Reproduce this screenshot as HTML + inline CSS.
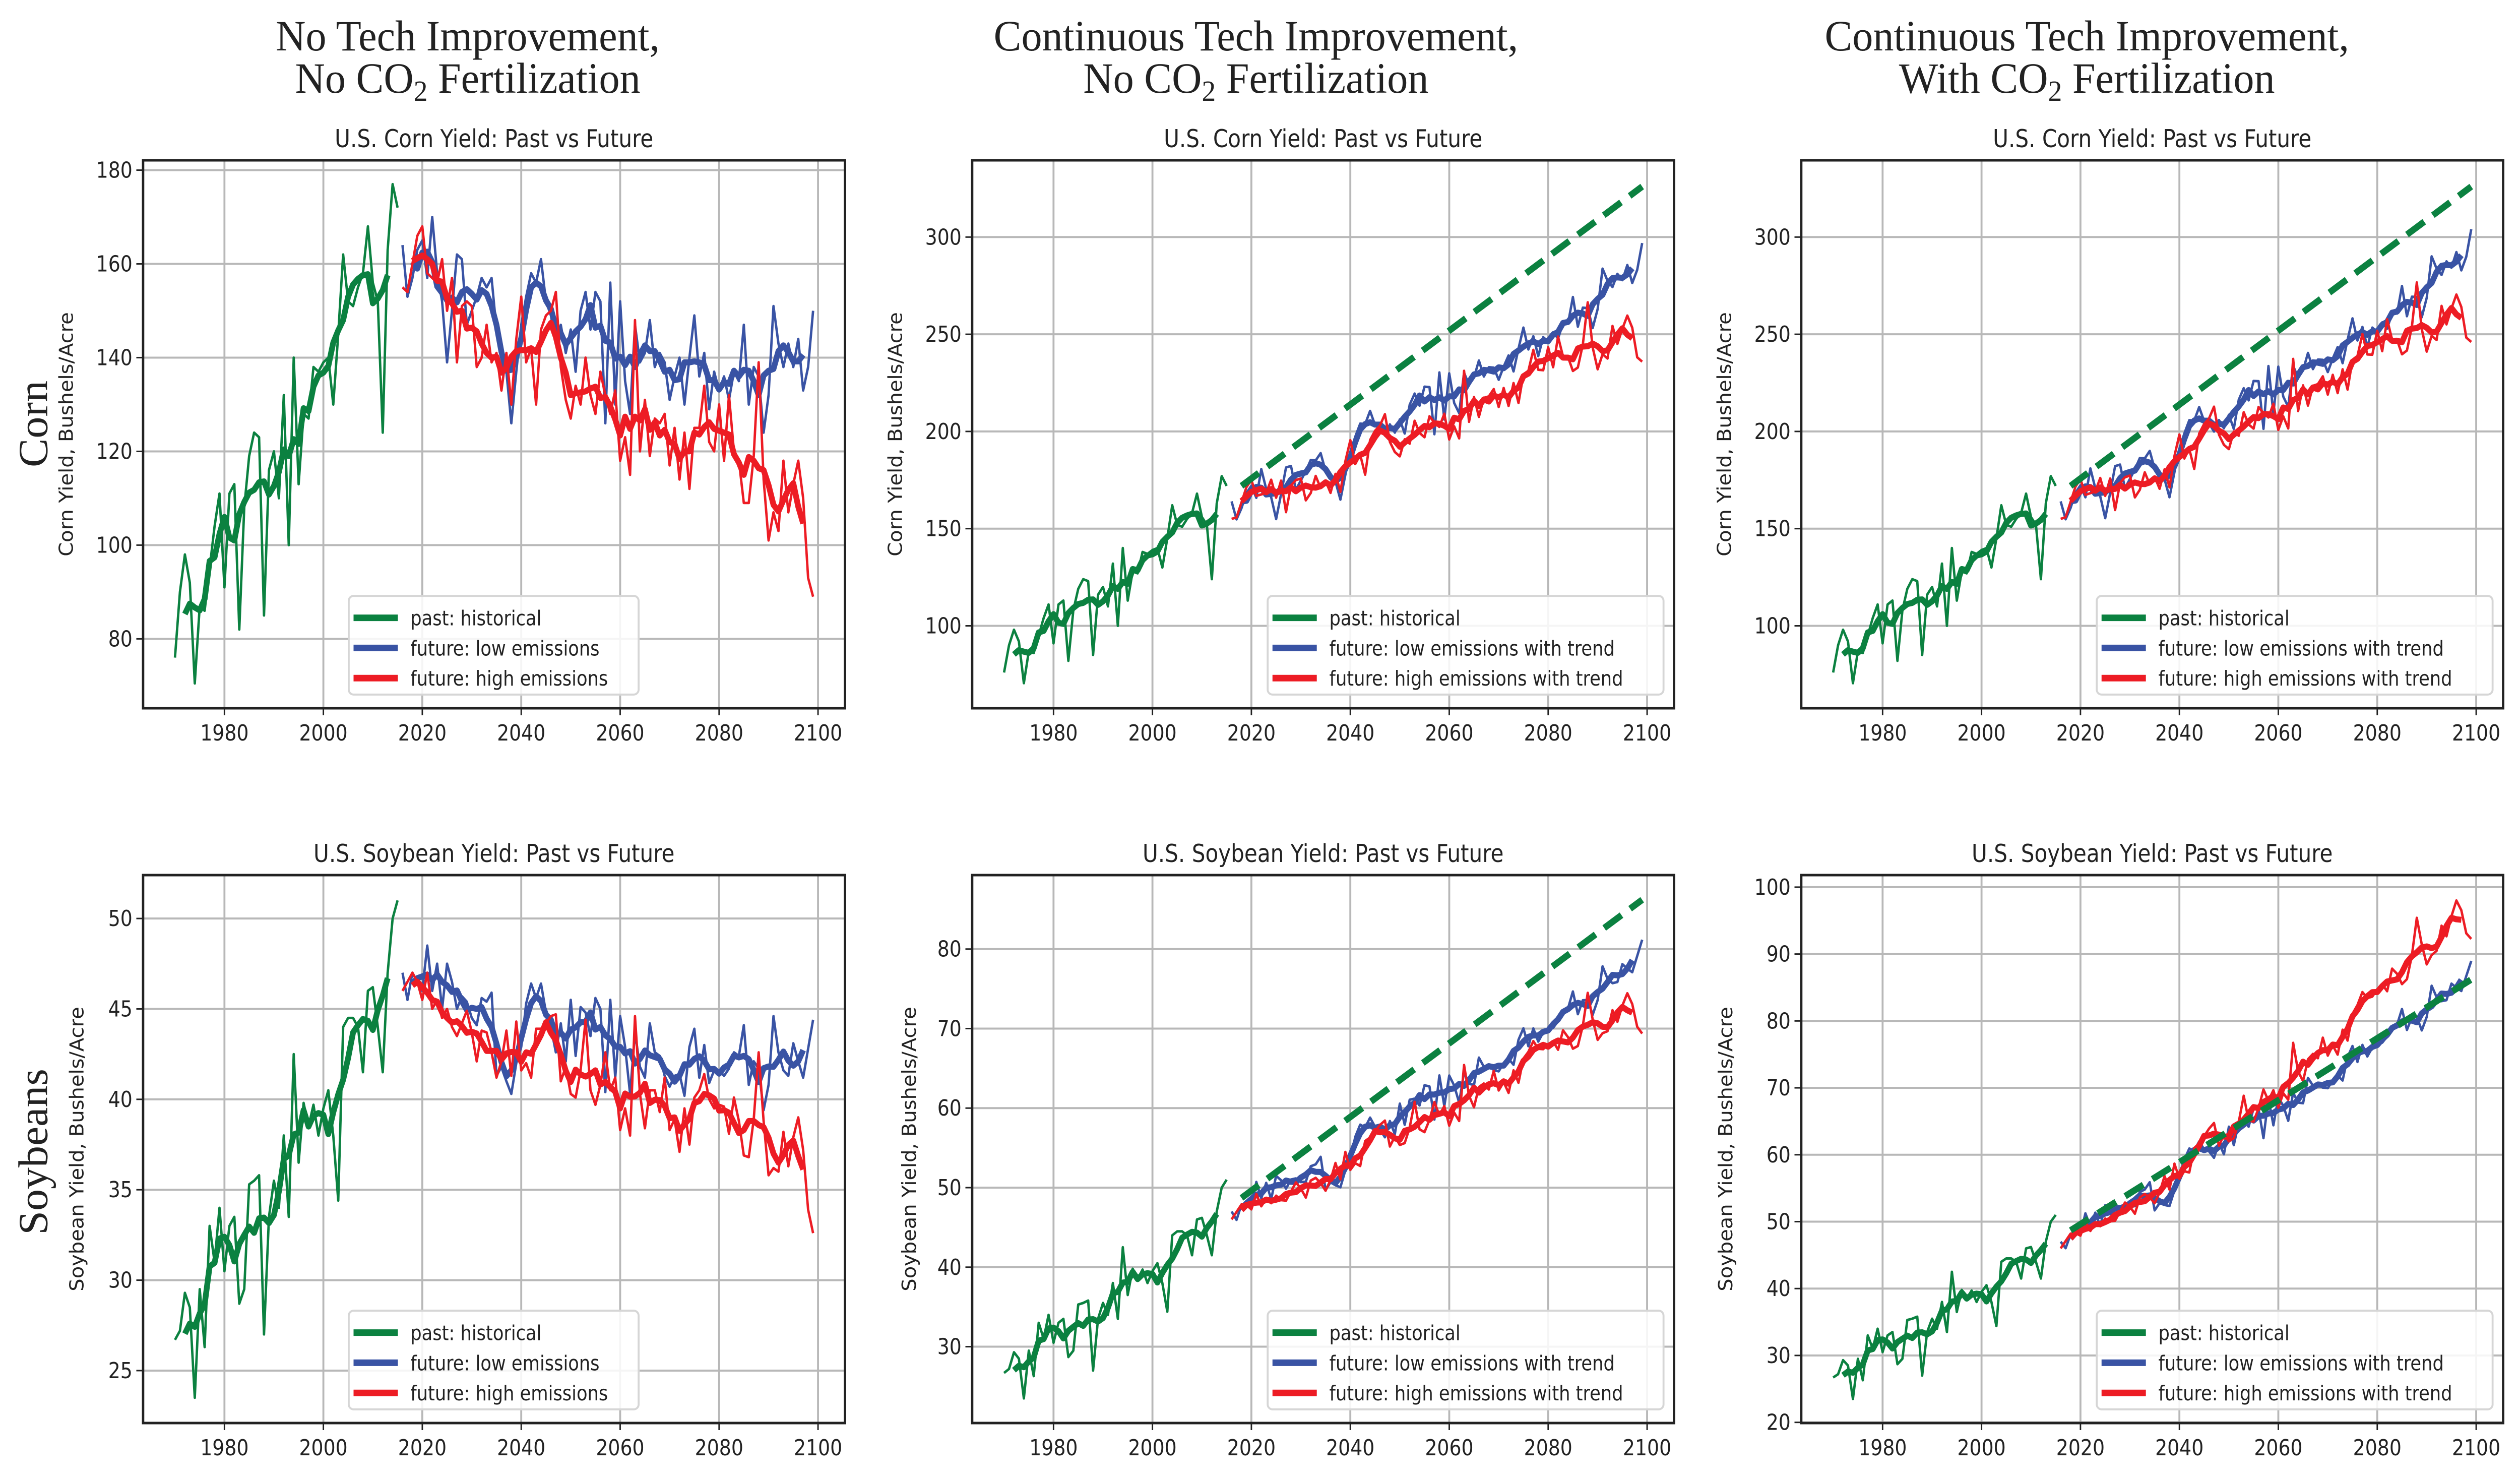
<!DOCTYPE html>
<html><head><meta charset="utf-8"><style>
html,body{margin:0;padding:0;background:#fff;overflow:hidden;}
svg{display:block;overflow:hidden;width:100vw;height:100vh;}
.tk{font-family:"DejaVu Sans Condensed","Liberation Sans",sans-serif;font-size:44px;fill:#222;}
.lg{font-family:"DejaVu Sans Condensed","Liberation Sans",sans-serif;font-size:41px;fill:#222;}
.st{font-family:"DejaVu Sans Condensed","Liberation Sans",sans-serif;font-size:49px;fill:#222;}
.yl{font-family:"DejaVu Sans","Liberation Sans",sans-serif;font-size:40px;fill:#222;}
.bt{font-family:"Liberation Serif",serif;font-size:86px;fill:#222;}
</style></head><body>
<svg id="fig" viewBox="0 0 5231 2936" preserveAspectRatio="none" xmlns="http://www.w3.org/2000/svg">
<rect width="5231" height="2936" fill="#fff"/>
<g>
<text class="bt" x="971" y="100" text-anchor="middle">No Tech Improvement,</text>
<text class="bt" x="971" y="184" text-anchor="middle">No CO<tspan font-size="58" dy="16">2</tspan><tspan dy="-16"> Fertilization</tspan></text>
<text class="bt" x="2607" y="100" text-anchor="middle">Continuous Tech Improvement,</text>
<text class="bt" x="2607" y="184" text-anchor="middle">No CO<tspan font-size="58" dy="16">2</tspan><tspan dy="-16"> Fertilization</tspan></text>
<text class="bt" x="4332" y="100" text-anchor="middle">Continuous Tech Improvement,</text>
<text class="bt" x="4332" y="184" text-anchor="middle">With CO<tspan font-size="58" dy="16">2</tspan><tspan dy="-16"> Fertilization</tspan></text>
</g>
<text class="bt" font-size="96" transform="translate(98,841) rotate(-90)" text-anchor="middle">Corn</text>
<text class="bt" font-size="96" transform="translate(98,2285) rotate(-90)" text-anchor="middle">Soybeans</text>
</svg>
<script>
// ---------- data ----------
const histStartYear = 1970;
const futStartYear = 2016;
const cornHist = [76,90,98,92,70.5,87,86,95,104,111,
 91,111,113,82,108,119,124,123,85,116,
 120,110,132,100,140,113,128,127,138,137,
 139,140,130,145,162,152,151,155,158,168,
 156,152,124,163,177,172];
const soyHist = [26.7,27.2,29.3,28.5,23.5,29.5,26.3,33,31,34,
 30.5,33,33.5,28.7,29.5,35.3,35.5,35.8,27,33.5,
 35.5,34,38,33.5,42.5,36.5,39.8,38.5,39.7,38,
 39.5,40.5,38,34.4,44,44.5,44.5,44,41.5,46,
 46.2,44,41.5,47,50,51];
const cornLow = [164,153,157,163,
 165,157,170,158,152,139,150,162,161,147,
 150,153,157,155,157,146,140,137,126,137,
 147,153,158,156,161,152,149,143,147,141,
 146,137,150,154,146,154,152,126,156,130,
 152,135,128,147,139,141,148,138,141,139,
 131,136,140,130,140,149,136,141,129,137,
 133,136,131,137,135,147,130,138,136,124,
 132,151,143,138,143,138,144,133,138,150];
const cornHigh = [155,154,160,166,
 168,158,157,156,161,150,157,139,151,152,
 151,138,140,147,139,141,133,141,130,144,
 153,139,142,130,146,149,150,154,138,131,
 127,134,130,140,132,128,137,132,128,133,
 118,123,115,148,120,131,119,127,126,128,
 117,125,114,124,112,125,125,134,122,120,
 130,118,132,120,118,109,109,119,139,114,
 101,107,103,118,107,113,118,110,93,89];
const soyLow = [47,45.5,47,46.5,
 46,48.5,46,47.5,45,47.5,46.5,45,45.7,45.4,
 44.5,44.1,45.6,45.4,45.9,41.3,41.8,41.0,40.3,42,
 42.9,45.3,46.4,45.6,46.4,44.8,44,42.6,44.2,42.1,
 45.5,42.4,45.1,44.8,43.5,45.6,45,40.4,45.5,41.2,
 44.6,42.9,40.3,43.7,41.8,41.2,44.2,42.6,42.4,41.3,
 40.7,41.3,41.4,40.2,42.9,43.9,41.2,43,40.9,41.6,
 41.6,41.3,41.7,42.6,42.4,44.1,40.8,42.1,41.7,39.4,
 40.8,44.6,42.6,41.6,41.3,43.1,42.1,41.2,42.8,44.4];
const soyHigh = [46,46.5,47,46.5,
 45.5,47,45,45.5,44.5,45,44,43.5,44.2,44.9,
 43.7,42.1,43.8,43.7,42.6,41.2,42.1,43.8,41.3,44.3,
 41.6,42,41.2,43.9,43.9,44.2,44.6,44.7,41,41.8,
 40.3,40.1,41.6,44.4,40.5,39.7,40.8,42.6,40.5,41.2,
 38.3,39.5,38,44.6,40.3,38.4,40.5,40.5,39.3,41.2,
 38.3,38.9,37.1,39.5,37.5,40.1,40.5,41.4,40,39.5,
 39.7,39.6,38.1,40.1,38.8,36.9,36.8,38.9,42.6,38.8,
 35.8,36.2,36,38.2,36.3,37.9,39,37.2,33.9,32.6];
// tech trend (dashed line endpoints) and gain added to future yields
const trendYears = [2018, 2099];
const cornTrend = [172, 326];
const soyTrend = [48.7, 86.2];
const cornTechGain = 1.77;   // bu/acre per year
const soyTechGain = 0.443;
// CO2 fertilization multipliers at anchor years
const co2Years = [2016, 2040, 2060, 2080, 2099];
const cornCo2Low = [1, 1.008, 1.015, 1.02, 1.024];
const cornCo2High = [1, 1.015, 1.025, 1.035, 1.043];
const soyCo2Low = [1, 1.05, 1.07, 1.095, 1.096];
const soyCo2High = [1, 1.08, 1.16, 1.245, 1.33];
// tick labels
const xTicks = [1980, 2000, 2020, 2040, 2060, 2080, 2100];
const cornTicksA = [80, 100, 120, 140, 160, 180];
const cornTicksB = [100, 150, 200, 250, 300];
const soyTicksA = [25, 30, 35, 40, 45, 50];
const soyTicksB = [30, 40, 50, 60, 70, 80];
const soyTicksC = [20, 30, 40, 50, 60, 70, 80, 90, 100];
const legendA = ["past: historical", "future: low emissions", "future: high emissions"];
const legendB = ["past: historical", "future: low emissions with trend", "future: high emissions with trend"];

// ---------- layout ----------
const NS = "http://www.w3.org/2000/svg";
const svg = document.getElementById('fig');
const W = 1457, H = 1087;
const XMIN = 1963.55, XMAX = 2105.45;
const C_GREEN = "#0b8140", C_BLUE = "#3953a4", C_RED = "#ed1c24";

const panels = [
 {id:"corn-no-tech", crop:"corn", mode:0, left:297, top:318, ylim:[65.2,182.1], ticks:cornTicksA, ylx:-146, title:"U.S. Corn Yield: Past vs Future", ylabel:"Corn Yield, Bushels/Acre", leg:legendA},
 {id:"corn-tech", crop:"corn", mode:1, left:2018, top:318, ylim:[57.6,339.5], ticks:cornTicksB, ylx:-146, title:"U.S. Corn Yield: Past vs Future", ylabel:"Corn Yield, Bushels/Acre", leg:legendB},
 {id:"corn-tech-co2", crop:"corn", mode:2, left:3739, top:318, ylim:[57.6,339.5], ticks:cornTicksB, ylx:-146, title:"U.S. Corn Yield: Past vs Future", ylabel:"Corn Yield, Bushels/Acre", leg:legendB},
 {id:"soy-no-tech", crop:"soy", mode:0, left:297, top:1736, ylim:[22.1,52.4], ticks:soyTicksA, ylx:-124, title:"U.S. Soybean Yield: Past vs Future", ylabel:"Soybean Yield, Bushels/Acre", leg:legendA},
 {id:"soy-tech", crop:"soy", mode:1, left:2018, top:1736, ylim:[20.4,89.3], ticks:soyTicksB, ylx:-117, title:"U.S. Soybean Yield: Past vs Future", ylabel:"Soybean Yield, Bushels/Acre", leg:legendB},
 {id:"soy-tech-co2", crop:"soy", mode:2, left:3739, top:1736, ylim:[19.9,101.8], ticks:soyTicksC, ylx:-143, title:"U.S. Soybean Yield: Past vs Future", ylabel:"Soybean Yield, Bushels/Acre", leg:legendB}
];

function mk(tag, attrs, parent){
  const e = document.createElementNS(NS, tag);
  for (const k in attrs) e.setAttribute(k, attrs[k]);
  (parent||svg).appendChild(e);
  return e;
}
function rolling(arr, startYear){
  const out = [];
  for (let i = 2; i < arr.length - 2; i++){
    out.push([startYear + i, (arr[i-2]+arr[i-1]+arr[i]+arr[i+1]+arr[i+2]) / 5]);
  }
  return out;
}
function series(arr, startYear){ return arr.map((v,i)=>[startYear+i, v]); }
function factorAt(year, tbl){
  for (let i = 0; i < co2Years.length-1; i++){
    if (year <= co2Years[i+1]){
      const t = (year - co2Years[i])/(co2Years[i+1]-co2Years[i]);
      return tbl[i] + t*(tbl[i+1]-tbl[i]);
    }
  }
  return tbl[tbl.length-1];
}
function adjust(pts, crop, mode, scen){
  if (mode === 0) return pts;
  const gain = crop === "corn" ? cornTechGain : soyTechGain;
  const tbl = crop === "corn" ? (scen==="low"?cornCo2Low:cornCo2High) : (scen==="low"?soyCo2Low:soyCo2High);
  return pts.map(([y,v]) => {
    let nv = v + gain*(y - futStartYear);
    if (mode === 2) nv *= factorAt(y, tbl);
    return [y, nv];
  });
}

panels.forEach(p => {
  const sx = y => p.left + (y - XMIN)/(XMAX - XMIN)*W;
  const sy = v => p.top + H - (v - p.ylim[0])/(p.ylim[1]-p.ylim[0])*H;
  const g = mk('g', {});
  
  
  const defs = mk('defs', {}, g);
  const cp = mk('clipPath', {id:'clip-'+p.id}, defs);
  mk('rect', {x:p.left, y:p.top, width:W, height:H}, cp);

  xTicks.forEach(t => {
    const x = sx(t);
    const gl = mk('line', {x1:x, x2:x, y1:p.top, y2:p.top+H, stroke:"#b8b8b8", "stroke-width":4}, g);
    
    
    const tk = mk('line', {x1:x, x2:x, y1:p.top+H, y2:p.top+H+14, stroke:"#222", "stroke-width":3}, g);
    
    
    const tl = mk('text', {x:x, y:p.top+H+64, "text-anchor":"middle", class:"tk"}, g);
    tl.textContent = t;
    
    
  });
  p.ticks.forEach(t => {
    const y = sy(t);
    const gl = mk('line', {x1:p.left, x2:p.left+W, y1:y, y2:y, stroke:"#b8b8b8", "stroke-width":4}, g);
    
    
    const tk = mk('line', {x1:p.left-14, x2:p.left, y1:y, y2:y, stroke:"#222", "stroke-width":3}, g);
    
    
    const tl = mk('text', {x:p.left-22, y:y+15, "text-anchor":"end", class:"tk"}, g);
    tl.textContent = t;
    
    
  });

  const hist = p.crop === "corn" ? cornHist : soyHist;
  const low = p.crop === "corn" ? cornLow : soyLow;
  const high = p.crop === "corn" ? cornHigh : soyHigh;
  const plot = mk('g', {"clip-path":"url(#clip-"+p.id+")"}, g);
  
  
  function line(pts, color, w, name, dash){
    const d = pts.map((q,i)=>(i?'L':'M')+sx(q[0]).toFixed(1)+','+sy(q[1]).toFixed(1)).join('');
    const a = {d:d, fill:"none", stroke:color, "stroke-width":w, "stroke-linejoin":"round", "stroke-linecap":"butt"};
    if (dash) a["stroke-dasharray"] = dash;
    const e = mk('path', a, plot);
    
    
  }
  line(series(hist, histStartYear), C_GREEN, 5, 'historical-raw-line');
  line(rolling(hist, histStartYear), C_GREEN, 12, 'historical-smoothed-line');
  line(adjust(series(low, futStartYear), p.crop, p.mode, "low"), C_BLUE, 5, 'low-emissions-raw-line');
  line(adjust(rolling(low, futStartYear), p.crop, p.mode, "low"), C_BLUE, 12, 'low-emissions-smoothed-line');
  line(adjust(series(high, futStartYear), p.crop, p.mode, "high"), C_RED, 5, 'high-emissions-raw-line');
  line(adjust(rolling(high, futStartYear), p.crop, p.mode, "high"), C_RED, 12, 'high-emissions-smoothed-line');
  if (p.mode > 0){
    const tr = p.crop === "corn" ? cornTrend : soyTrend;
    line([[trendYears[0], tr[0]], [trendYears[1], tr[1]]], C_GREEN, 13, 'tech-trend-dashed-line', "44 22");
  }

  const fr = mk('rect', {x:p.left, y:p.top, width:W, height:H, fill:"none", stroke:"#222", "stroke-width":5}, g);
  
  

  const tt = mk('text', {x:p.left+W/2, y:p.top-26, "text-anchor":"middle", class:"st"}, g);
  tt.textContent = p.title;
  
  
  const yl = mk('text', {transform:"translate("+(p.left+p.ylx)+","+(p.top+H/2)+") rotate(-90)", "text-anchor":"middle", class:"yl"}, g);
  yl.textContent = p.ylabel;
  
  

  const wide = p.mode > 0;
  const bx0 = p.left + (wide?0.421:0.293)*W, bx1 = p.left + (wide?0.985:0.706)*W;
  const by0 = p.top + 0.795*H, by1 = p.top + 0.975*H;
  const lg = mk('g', {}, g);
  
  
  mk('rect', {x:bx0, y:by0, width:bx1-bx0, height:by1-by0, rx:10, fill:"#fff", "fill-opacity":0.85, stroke:"#d6d6d6", "stroke-width":4}, lg);
  const cols = [C_GREEN, C_BLUE, C_RED];
  const ey = [0.835, 0.89, 0.945];
  p.leg.forEach((lab, i) => {
    const y = p.top + ey[i]*H;
    const sx0 = bx0 + 10, sx1 = sx0 + 92;
    const ent = mk('g', {}, lg);
    
    
    mk('line', {x1:sx0, x2:sx1, y1:y, y2:y, stroke:cols[i], "stroke-width":13}, ent);
    const t = mk('text', {x:sx1+26, y:y+15, class:"lg"}, ent);
    t.textContent = lab;
  });
});
</script>
</body></html>
